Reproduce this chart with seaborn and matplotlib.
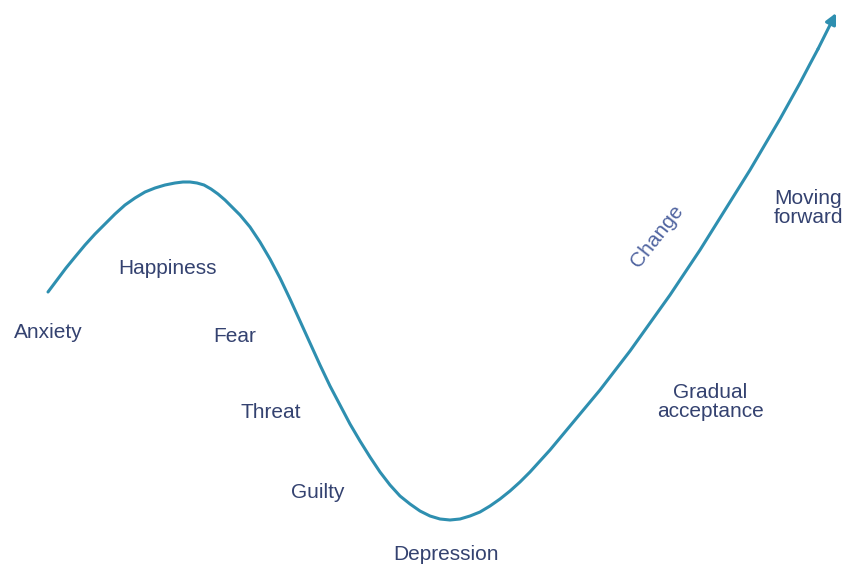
import matplotlib
matplotlib.use("Agg")
import matplotlib.pyplot as plt
import seaborn as sns
import pandas as pd

# --------------------------------
# DATA (curve, pixel-like units)
# --------------------------------

curve_x = [48, 57, 66, 75, 85, 95, 105, 115, 125, 135, 145, 155, 165, 175,
           183, 190, 197, 204, 211, 218, 225, 232, 240, 250, 260, 270, 280,
           290, 300, 310, 320, 330, 340, 350, 360, 370, 380, 390, 400, 410,
           420, 430, 440, 450, 460, 470, 480, 490, 500, 510, 520, 530, 540,
           550, 560, 570, 580, 590, 600, 610, 620, 630, 640, 650, 660, 670,
           680, 690, 700, 710, 720, 730, 740, 750, 760, 770, 780, 790, 800,
           810, 818]
curve_y = [292, 280, 268, 257, 245, 234, 224, 214, 205, 198, 192, 188, 185, 183,
           182, 182, 183, 185, 189, 194, 200, 207, 215, 227, 242, 259, 278,
           299, 321, 343, 365, 386, 405, 424, 441, 457, 472, 485, 496, 504,
           511, 516, 519, 520, 519, 516, 512, 506, 499, 491, 482, 472, 461,
           450, 438, 426, 414, 402, 390, 377, 364, 351, 337, 323, 309, 295,
           280, 265, 250, 234, 218, 202, 186, 170, 153, 136, 119, 101, 83,
           64, 49]
arrow_tip = (836, 13)

labels = ["Anxiety", "Happiness", "Fear", "Threat", "Guilty", "Depression",
          "Gradual\nacceptance", "Moving\nforward"]
label_x = [48, 167, 235, 271, 318, 446, 710, 808]
label_y = [332, 268, 337, 413, 492, 555, 402, 208]

df = pd.DataFrame({"x": curve_x, "y": curve_y})

# --------------------------------
# PLOT
# --------------------------------

sns.set_style("white")
plt.rcParams["font.family"] = ["Liberation Sans", "DejaVu Sans"]

line_color = "#2e8fb0"
text_color = "#344270"

fig = plt.figure(figsize=(8.48, 5.68), dpi=100)
ax = fig.add_axes([0, 0, 1, 1])

sns.lineplot(data=df, x="x", y="y", sort=False, color=line_color,
             linewidth=2.2, ax=ax)

ax.annotate("", xy=arrow_tip, xytext=(curve_x[-1], curve_y[-1]),
            arrowprops=dict(arrowstyle="-|>", color=line_color, lw=2.2,
                            mutation_scale=16, shrinkA=0, shrinkB=0))

for txt, lx, ly in zip(labels, label_x, label_y):
    ax.text(lx, ly, txt, ha="center", va="center", fontsize=15,
            color=text_color, linespacing=1.05)

ax.text(657, 236, "Change", ha="center", va="center", fontsize=15,
        color="#5064a0", rotation=52)

ax.set_xlim(0, 848)
ax.set_ylim(568, 0)
ax.axis("off")

plt.savefig("out.png", dpi=100)
